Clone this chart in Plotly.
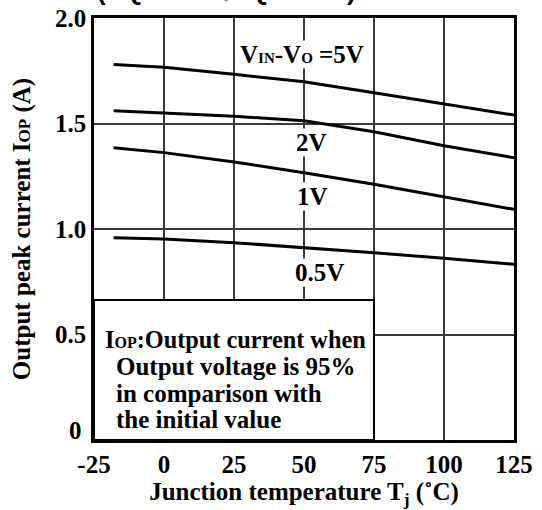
import plotly.graph_objects as go

# ---- data ----
tj = [-18, 0, 25, 50, 75, 100, 125]
iop_5v = [1.780, 1.766, 1.733, 1.698, 1.646, 1.592, 1.540]
iop_2v = [1.561, 1.551, 1.534, 1.513, 1.461, 1.395, 1.338]
iop_1v = [1.385, 1.362, 1.318, 1.267, 1.212, 1.153, 1.093]
iop_05v = [0.959, 0.953, 0.935, 0.913, 0.888, 0.861, 0.833]
series = [iop_5v, iop_2v, iop_1v, iop_05v]
series_labels = ["V<span style='font-size:15px'>IN</span>-V<span style='font-size:15px'>O</span> =5V",
                 "2V", "1V", "0.5V"]
label_pos = [(49.3, 1.825), (52.5, 1.408), (53.2, 1.152), (55.4, 0.796)]

x_ticks = [-25, 0, 25, 50, 75, 100, 125]
y_ticks = [0.5, 1.0, 1.5, 2.0]
y_ticktext = ["0.5", "1.0", "1.5", "2.0"]

note_lines = ["I<span style='font-size:16px'>OP</span>:Output current when",
              "Output voltage is 95%",
              "in comparison with",
              "the initial value"]

FONT = "Liberation Serif"
FS = 25

fig = go.Figure()
for ys in series:
    fig.add_trace(go.Scatter(x=tj, y=ys, mode="lines",
                             line=dict(color="black", width=3),
                             showlegend=False, hoverinfo="skip"))

fig.update_layout(
    width=542, height=510,
    margin=dict(l=94, r=28, t=18, b=70, autoexpand=False),
    paper_bgcolor="white", plot_bgcolor="white",
    font=dict(family=FONT, color="black", size=FS),
)
fig.update_xaxes(range=[-25, 125], tickvals=x_ticks, ticktext=[str(v) for v in x_ticks],
                 showgrid=True, gridcolor="#3a3a3a", gridwidth=1.5, automargin=False,
                 showline=True, linecolor="black", linewidth=2.5, mirror=True,
                 ticks="", zeroline=False,
                 tickfont=dict(family=FONT, size=FS, color="black", weight="bold"),
                 title=dict(text="Junction temperature T<sub>j</sub> (˚C)",
                            font=dict(family=FONT, size=FS, weight="bold"), standoff=5))
fig.update_yaxes(range=[0, 2], tickvals=y_ticks, ticktext=y_ticktext,
                 showgrid=True, gridcolor="#3a3a3a", gridwidth=1.5, automargin=False,
                 showline=True, linecolor="black", linewidth=2.5, mirror=True,
                 ticks="", zeroline=False,
                 tickfont=dict(family=FONT, size=FS, color="black", weight="bold"),
                 title=dict(text="Output peak current I<span style='font-size:17px'>OP</span> (A)",
                            font=dict(family=FONT, size=FS, weight="bold"), standoff=18))

# zero label on y axis (raised to clear x tick labels)
fig.add_annotation(x=0, y=0, xref="paper", yref="y", text="<b>0</b>", showarrow=False,
                   xanchor="right", yanchor="middle", xshift=-10, yshift=10,
                   font=dict(family=FONT, size=FS, color="black"))

# note box
fig.add_shape(type="rect", x0=-25, x1=75, y0=0, y1=0.664, xref="x", yref="y",
              fillcolor="white", line=dict(color="black", width=2), layer="above")
note_x = [-21.9, -17.8, -17.8, -17.8]
note_y = [0.474, 0.350, 0.222, 0.098]
note_size = [24.3, FS, FS, FS]
for t, nx, ny, ns in zip(note_lines, note_x, note_y, note_size):
    fig.add_annotation(x=nx, y=ny, xref="x", yref="y", text="<b>" + t + "</b>",
                       showarrow=False, xanchor="left", yanchor="middle",
                       font=dict(family=FONT, size=ns, color="black"))

# curve labels
for t, (lx, ly) in zip(series_labels, label_pos):
    fig.add_annotation(x=lx, y=ly, xref="x", yref="y", text="<b>" + t + "</b>",
                       showarrow=False, xanchor="center", yanchor="middle",
                       bgcolor="white", borderpad=0,
                       font=dict(family=FONT, size=FS, color="black"))

# clipped title at top
fig.add_annotation(x=(226 - 94) / 420, y=1, xref="paper", yref="paper",
                   text="<b>(PQ3RD23/PQ3RF23)</b>",
                   showarrow=False, xanchor="center", yanchor="bottom", yshift=10,
                   font=dict(family="Liberation Sans", size=26, color="black"))

fig.write_html("out.html", config={"displayModeBar": False},
               post_script="document.body.style.margin='0';document.body.style.overflow='hidden';")
